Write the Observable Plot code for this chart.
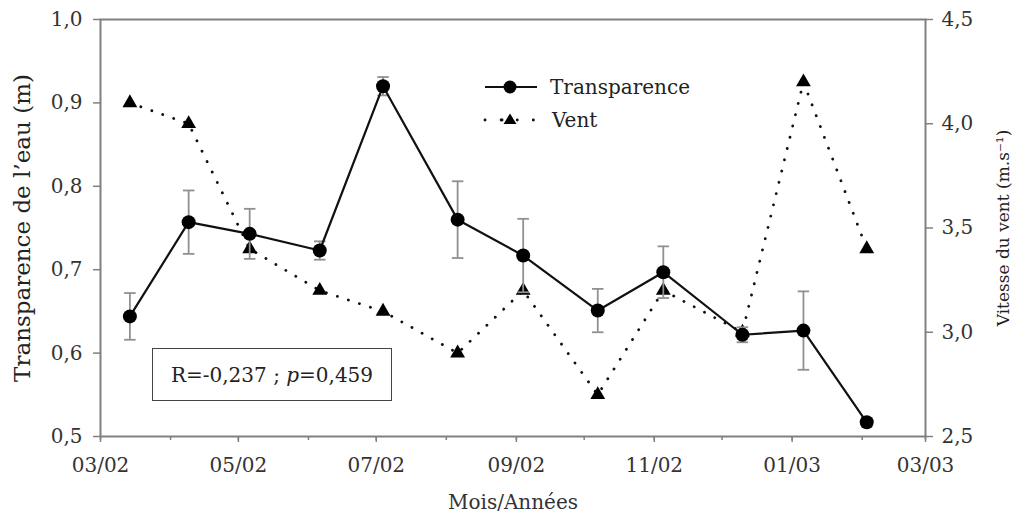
<!DOCTYPE html>
<html><head><meta charset="utf-8">
<script src="https://cdn.jsdelivr.net/npm/d3@7"></script>
<script src="https://cdn.jsdelivr.net/npm/@observablehq/plot@0.6"></script>
<style>
body{margin:0;background:#fff;}
#wrap{position:relative;width:1023px;height:520px;font-family:"DejaVu Serif",serif;}
#legend{position:absolute;left:470px;top:68px;}
#rbox{position:absolute;left:152px;top:348px;width:238px;height:51px;border:1.6px solid #444;display:flex;align-items:center;justify-content:center;font-size:20px;color:#222;}
</style></head>
<body><div id="wrap"></div>
<script>
// --- data ---
const dates = ["2002-03-14","2002-04-09","2002-05-06","2002-06-06","2002-07-04","2002-08-06","2002-09-04","2002-10-07","2002-11-05","2002-12-10","2003-01-06","2003-02-03"];
const transparence = [0.644,0.757,0.743,0.723,0.920,0.760,0.717,0.651,0.697,0.622,0.627,0.517];
const transpErr = [0.028,0.038,0.030,0.011,0.011,0.046,0.044,0.026,0.031,0.009,0.047,0.005];
const vent = [4.1,4.0,3.4,3.2,3.1,2.9,3.2,2.7,3.2,3.0,4.2,3.4];
const xTicks = ["2002-03-01","2002-05-01","2002-07-01","2002-09-01","2002-11-01","2003-01-01","2003-03-01"];
const xTickLabels = ["03/02","05/02","07/02","09/02","11/02","01/03","03/03"];
const leftTicks = [0.5,0.6,0.7,0.8,0.9,1.0];
const leftTickLabels = ["0,5","0,6","0,7","0,8","0,9","1,0"];
const rightTicks = [2.5,3.0,3.5,4.0,4.5];
const rightTickLabels = ["2,5","3,0","3,5","4,0","4,5"];
const series = ["Transparence","Vent"];
const annotation = ["R=-0,237 ; ","p","=0,459"];

// wind (2.5–4.5) -> left scale (0.5–1.0)
const toLeft = w => 0.5 + (w - 2.5) / 4;

const data = dates.map((d,i)=>({
  date: new Date(d), t: transparence[i],
  lo: transparence[i]-transpErr[i], hi: transparence[i]+transpErr[i],
  w: toLeft(vent[i])
}));
const months = d3.utcMonths(new Date("2002-03-01"), new Date("2003-03-02"));
const capSymbol = {draw(ctx, size){ const w = Math.sqrt(size); ctx.moveTo(-w/2,0); ctx.lineTo(w/2,0);} };
const gray = "#808080";

const chart = Plot.plot({
  width:1023, height:520,
  marginTop:19, marginBottom:84, marginLeft:100, marginRight:98,
  style:{fontFamily:"'DejaVu Serif', serif", fontSize:"20px", color:"#333", background:"white", overflow:"visible"},
  x:{type:"utc", domain:[new Date("2002-03-01"), new Date("2003-03-01")]},
  y:{domain:[0.5,1.0]},
  marks:[
    Plot.frame({stroke:gray, strokeWidth:2}),
    Plot.axisX(months, {tickSize:4, tickFormat:()=>"", stroke:gray, strokeWidth:1.5, label:null}),
    Plot.axisX(xTicks.map(d=>new Date(d)), {tickSize:6, tickPadding:15, stroke:gray, strokeWidth:1.5,
      tickFormat:(d)=>xTickLabels[xTicks.findIndex(t=>+new Date(t)===+d)], fill:"#333", label:null}),
    Plot.axisY(leftTicks, {anchor:"left", tickSize:7, tickPadding:11, stroke:gray, strokeWidth:1.5,
      tickFormat:(d)=>leftTickLabels[leftTicks.indexOf(d)], fill:"#333", label:null}),
    Plot.axisY(rightTicks.map(toLeft), {anchor:"right", tickSize:7, tickPadding:9, stroke:gray, strokeWidth:1.5,
      tickFormat:(d)=>rightTickLabels[rightTicks.map(toLeft).indexOf(d)], fill:"#333", label:null}),
    Plot.text(["Transparence de l’eau (m)"], {frameAnchor:"left", dx:-78, rotate:-90, textAnchor:"middle", lineAnchor:"middle", fontSize:23, fill:"#222"}),
    Plot.text(["Vitesse du vent (m.s⁻¹)"], {frameAnchor:"right", dx:78, rotate:-90, textAnchor:"middle", lineAnchor:"middle", fontSize:17, fill:"#222"}),
    Plot.text(["Mois/Années"], {frameAnchor:"bottom", dy:66, textAnchor:"middle", lineAnchor:"middle", fontSize:20, fill:"#333"}),
    // wind
    Plot.line(data, {x:"date", y:"w", stroke:"#111", strokeWidth:2.8, strokeDasharray:"0.1,11.5", strokeLinecap:"round"}),
    Plot.dot(data, {x:"date", y:"w", symbol:"triangle", r:5.5, fill:"#000"}),
    // error bars
    Plot.ruleX(data, {x:"date", y1:"lo", y2:"hi", stroke:"#909090", strokeWidth:1.8}),
    Plot.dot(data, {x:"date", y:"lo", symbol:capSymbol, r:6.5, stroke:"#909090", strokeWidth:1.8}),
    Plot.dot(data, {x:"date", y:"hi", symbol:capSymbol, r:6.5, stroke:"#909090", strokeWidth:1.8}),
    // transparence
    Plot.line(data, {x:"date", y:"t", stroke:"#111", strokeWidth:2.2}),
    Plot.dot(data, {x:"date", y:"t", r:7, fill:"#000"})
  ]
});
const wrap = document.getElementById("wrap");
wrap.appendChild(chart);

// legend
const lg = document.createElement("div");
lg.id = "legend";
lg.innerHTML = `<svg width="240" height="70" style="font-family:'DejaVu Serif',serif;font-size:20px">
  <line x1="15" y1="19" x2="67" y2="19" stroke="#111" stroke-width="2.2"/>
  <circle cx="40" cy="19" r="6.5" fill="#000"/>
  <text x="80" y="26" fill="#222">${series[0]}</text>
  <line x1="15" y1="52" x2="67" y2="52" stroke="#111" stroke-width="2.8" stroke-dasharray="0.1,16" stroke-linecap="round"/>
  <line x1="32" y1="52" x2="33" y2="52" stroke="#111" stroke-width="2.8" stroke-linecap="round" stroke-dasharray="0.1,10"/>
  <path d="M40,45.5 L46.5,56 L33.5,56 Z" fill="#000"/>
  <text x="82" y="59" fill="#222">${series[1]}</text>
</svg>`;
wrap.appendChild(lg);

const rb = document.createElement("div");
rb.id = "rbox";
rb.innerHTML = `<span>${annotation[0]}<i>${annotation[1]}</i>${annotation[2]}</span>`;
wrap.appendChild(rb);
</script></body></html>
